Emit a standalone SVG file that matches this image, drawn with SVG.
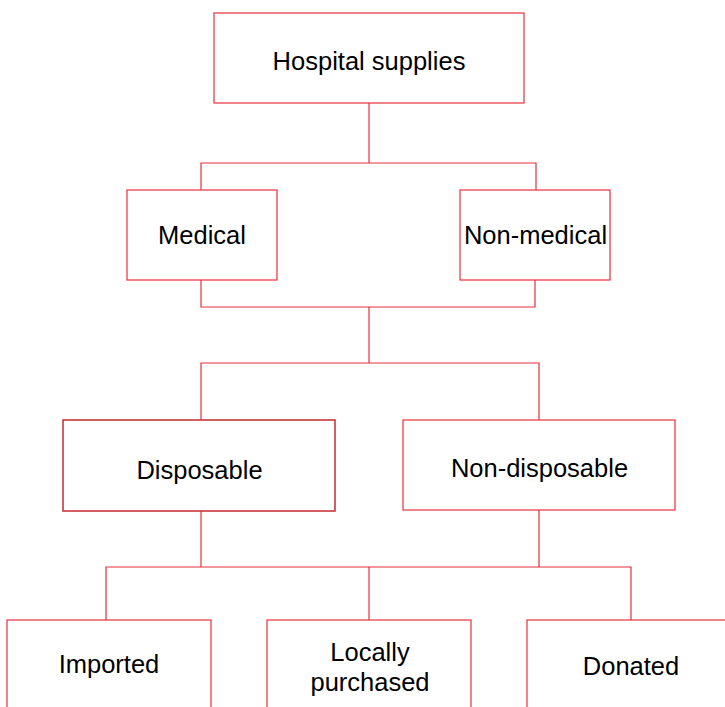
<svg xmlns="http://www.w3.org/2000/svg" width="725" height="707" viewBox="0 0 725 707">
<style>
.box{fill:#fff;stroke:#e8303a;stroke-width:1.2}
.dark{stroke:#c8363e;stroke-width:1.6}
.lbl{font-family:"Liberation Sans",Arial,sans-serif;font-size:25.5px;fill:#000;text-anchor:middle}
.conn{fill:none;stroke:#e8303a;stroke-width:1.2}
</style>
<rect width="725" height="707" fill="#fff"/>
<g id="connectors">
<path class="conn" d="M369,103 V163 M201,190 V163 H536 V190"/>
<path class="conn" d="M201,280 V307 H535 V280 M369,307 V363"/>
<path class="conn" d="M201,420 V363 H539 V420"/>
<path class="conn" d="M201,511 V567 M539,510 V567 M106,620 V567 H631 V620 M369,567 V620"/>
</g>
<g id="n-hospital"><rect class="box" x="214" y="13" width="310" height="90"/><text class="lbl" x="369" y="70">Hospital supplies</text></g>
<g id="n-medical"><rect class="box" x="127" y="190" width="150" height="90"/><text class="lbl" x="202" y="244">Medical</text></g>
<g id="n-nonmedical"><rect class="box" x="460" y="190" width="150" height="90"/><text class="lbl" x="535.5" y="244">Non-medical</text></g>
<g id="n-disposable"><rect class="box dark" x="63" y="420" width="272" height="91"/><text class="lbl" x="199.5" y="479">Disposable</text></g>
<g id="n-nondisposable"><rect class="box" x="403" y="420" width="272" height="90"/><text class="lbl" x="539.5" y="477">Non-disposable</text></g>
<g id="n-imported"><rect class="box" x="7" y="620" width="204" height="100"/><text class="lbl" x="109" y="673">Imported</text></g>
<g id="n-local"><rect class="box" x="267" y="620" width="204" height="100"/><text class="lbl" x="370" y="661">Locally</text><text class="lbl" x="370" y="691">purchased</text></g>
<g id="n-donated"><rect class="box" x="527" y="620" width="210" height="100"/><text class="lbl" x="631" y="675">Donated</text></g>
</svg>
